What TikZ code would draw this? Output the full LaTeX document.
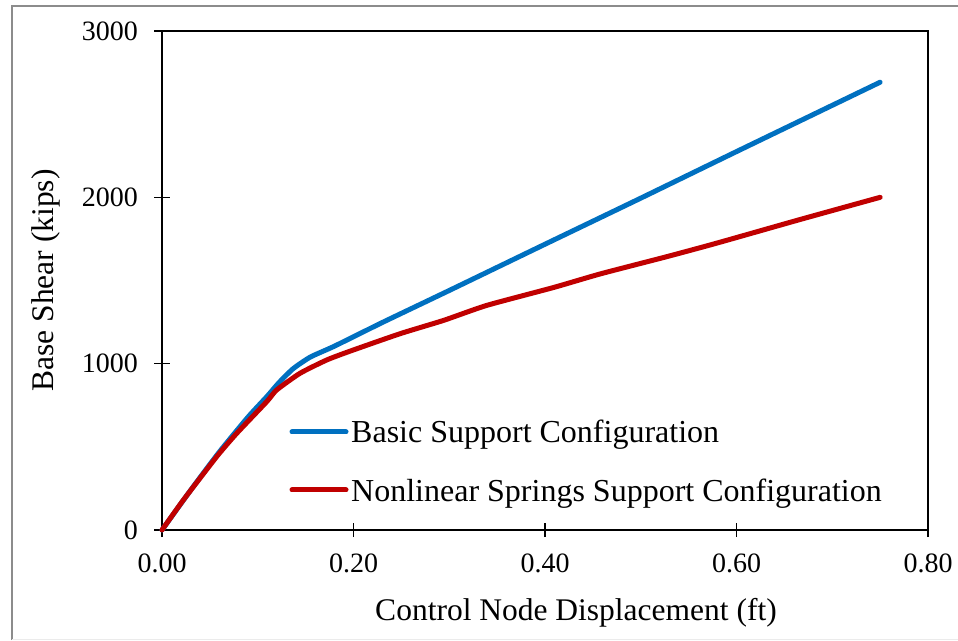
\documentclass[tikz,border=0pt]{standalone}
\usepackage{fontspec}
\setmainfont{Liberation Serif}
\definecolor{basicblue}{HTML}{0070C0}
\definecolor{springred}{HTML}{C00000}
\definecolor{framegray}{HTML}{8C8C8C}
\tikzset{
  axisline/.style={line width=1.4pt, black},
  ticklabel/.style={inner sep=0pt, font=\fontsize{28}{30}\selectfont},
  axistitle/.style={inner sep=0pt, font=\fontsize{31.5}{34}\selectfont},
  legendtext/.style={inner sep=0pt, anchor=base west, font=\fontsize{32}{35}\selectfont},
  curve/.style={line width=5pt, line cap=round, line join=round},
}
\begin{document}
\begin{tikzpicture}[x=1pt,y=1pt]
\useasboundingbox (0,0) rectangle (958,640);
% outer chart frame
\draw[framegray, line width=1.5pt] (12,0) -- (12,634) -- (958,634);
\draw[black!8, line width=1pt] (12,1) -- (958,1);

% plot area
\draw[axisline] (162,110) rectangle (928,609);
% x ticks and labels
\foreach \i/\lab in {0/0.00,1/0.20,2/0.40,3/0.60,4/0.80}{
  \draw[axisline] ({162+191.5*\i},103) -- ({162+191.5*\i},117);
  \node[ticklabel, anchor=base] (xt\i) at ({162+191.5*\i},68) {\lab};
}
% y ticks and labels
\foreach \i/\lab in {0/0,1/1000,2/2000,3/3000}{
  \draw[axisline] (154,{110+166.33*\i}) -- (170,{110+166.33*\i});
  \node[ticklabel, anchor=east] (yt\i) at (138,{110+166.33*\i}) {\lab};
}
% axis titles
\node[axistitle, anchor=base] (xtitle) at (576,20) {Control Node Displacement (ft)};
\node[axistitle, anchor=base, rotate=90] (ytitle) at (53,359.5) {Base Shear (kips)};

% data curves (x in ft, y in kips)
\begin{scope}[shift={(162,110)}, x=957.5pt, y=0.16633pt]
\draw[curve, basicblue] plot[smooth, tension=0.35] coordinates {
  (0,0) (0.03,240) (0.06,470) (0.09,680) (0.11,805) (0.122,885)
  (0.137,970) (0.155,1040) (0.18,1105) (0.231,1250) (0.3,1440)
  (0.4,1718) (0.5,1995) (0.6,2275) (0.75,2692)};
\draw[curve, springred] plot[smooth, tension=0.35] coordinates {
  (0,0) (0.0223,180) (0.0571,441) (0.078,581) (0.1093,771) (0.1198,842)
  (0.1441,942) (0.172,1022) (0.1963,1075) (0.2486,1180) (0.294,1260)
  (0.339,1350) (0.409,1458) (0.458,1540) (0.527,1643) (0.579,1724)
  (0.666,1866) (0.75,2000)};
\end{scope}

% legend
\node[legendtext] (lgbasic) at (351,197) {Basic Support Configuration};
\node[legendtext] (lgspring) at (351,138.3) {Nonlinear Springs Support Configuration};
\coordinate (lbstart) at (292,208);
\coordinate (lsstart) at (292,150);
\draw[curve, basicblue] (lbstart) -- ([xshift=-5pt]lbstart -| lgbasic.west);
\draw[curve, springred] (lsstart) -- ([xshift=-5pt]lsstart -| lgspring.west);
\end{tikzpicture}
\end{document}
